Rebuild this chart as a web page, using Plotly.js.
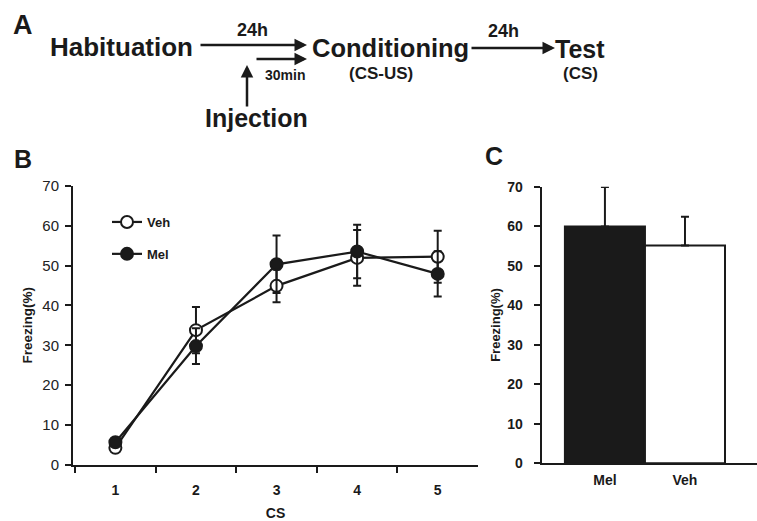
<!DOCTYPE html>
<html>
<head>
<meta charset="utf-8">
<script src="https://cdn.plot.ly/plotly-3.0.1.min.js"></script>
<style>html,body{margin:0;padding:0;background:#fff;}#chart{width:757px;height:521px;}</style>
</head>
<body>
<div id="chart"></div>
<script>
// ---- Data (panel B) ----
const csTrials = ['1', '2', '3', '4', '5'];
const vehFreezing = [4.3, 33.8, 44.9, 51.9, 52.2];
const vehSem = [0.8, 5.8, 4.1, 7.0, 6.5];
const melFreezing = [5.7, 29.8, 50.3, 53.5, 47.9];
const melSem = [0.6, 4.5, 7.2, 6.7, 5.7];
// ---- Data (panel C) ----
const groups = ['Mel', 'Veh'];
const testFreezing = [59.9, 55.1];
const testSem = [10.0, 7.3];
const yTicks = [0, 10, 20, 30, 40, 50, 60, 70];

const W = 757, H = 521;
const px = x => x / W;
const py = y => 1 - y / H;
const FONT = 'Liberation Sans, Arial, sans-serif';
const INK = '#1a1a1a';

const traces = [
  {
    x: csTrials, y: vehFreezing, name: 'Veh', type: 'scatter', mode: 'lines+markers',
    xaxis: 'x', yaxis: 'y', legendgroup: 'veh',
    line: {color: INK, width: 2.2},
    marker: {symbol: 'circle', size: 12, color: '#ffffff', line: {color: INK, width: 2}},
    error_y: {type: 'data', array: vehSem, visible: true, color: INK, thickness: 2, width: 4}
  },
  {
    x: csTrials, y: melFreezing, name: 'Mel', type: 'scatter', mode: 'lines+markers',
    xaxis: 'x', yaxis: 'y', legendgroup: 'mel',
    line: {color: INK, width: 2.2},
    marker: {symbol: 'circle', size: 12, color: INK, line: {color: INK, width: 2}},
    error_y: {type: 'data', array: melSem, visible: true, color: INK, thickness: 2, width: 4}
  },
  {
    x: groups, y: testFreezing, type: 'bar', xaxis: 'x2', yaxis: 'y2', showlegend: false,
    width: 1,
    marker: {color: [INK, '#ffffff'], line: {color: INK, width: 2}},
    error_y: {type: 'data', symmetric: false, array: testSem, arrayminus: [0, 0], visible: true,
              color: INK, thickness: 2, width: 4}
  }
];

function txt(t, x, y, size, extra) {
  return Object.assign({
    text: t, x: px(x), y: py(y), xref: 'paper', yref: 'paper', showarrow: false,
    xanchor: 'center', yanchor: 'middle',
    font: {family: FONT, size: size, color: INK, weight: 'bold'}
  }, extra || {});
}
function arrow(x0, y0, x1, y1) {
  return {
    text: '', x: px(x1), y: py(y1), xref: 'paper', yref: 'paper', showarrow: true,
    ax: x0 - x1, ay: y0 - y1, axref: 'pixel', ayref: 'pixel',
    arrowhead: 2, arrowsize: 1, arrowwidth: 2.5, arrowcolor: INK, standoff: 0, startstandoff: 0
  };
}

const annotations = [
  txt('A', 23, 25, 27),
  txt('Habituation', 121, 47, 26),
  txt('24h', 253, 30, 18),
  arrow(199, 45, 307, 45),
  arrow(255, 59, 307, 59),
  txt('30min', 285, 75, 14),
  arrow(247, 108, 247, 65),
  txt('Injection', 256, 118, 25),
  txt('Conditioning', 390, 48, 25.5),
  txt('(CS-US)', 381, 73, 17),
  txt('24h', 503, 31, 18),
  arrow(470, 48, 555, 48),
  txt('Test', 580, 49, 25),
  txt('(CS)', 580, 73, 17),
  txt('B', 23, 159, 25),
  txt('C', 494, 156, 25)
];

const layout = {
  width: W, height: H,
  margin: {l: 0, r: 0, t: 0, b: 0},
  paper_bgcolor: '#ffffff', plot_bgcolor: 'rgba(0,0,0,0)',
  font: {family: FONT, color: INK},
  showlegend: true,
  legend: {
    x: px(107), y: py(207), xanchor: 'left', yanchor: 'top',
    bgcolor: 'rgba(0,0,0,0)', borderwidth: 0,
    traceorder: 'grouped', tracegroupgap: 12,
    font: {family: FONT, size: 13, color: INK, weight: 'bold'}
  },
  xaxis: {
    domain: [px(73), px(478)], anchor: 'y', type: 'category',
    range: [-0.526, 4.5], tickson: 'boundaries',
    showline: true, linecolor: INK, linewidth: 2, showgrid: false, zeroline: false,
    ticks: 'outside', ticklen: 6, tickwidth: 2, tickcolor: INK, ticklabelstandoff: 11,
    tickfont: {family: FONT, size: 14, color: INK, weight: 'bold'},
    title: {text: 'CS', standoff: 12, font: {family: FONT, size: 14, color: INK, weight: 'bold'}}
  },
  yaxis: {
    domain: [py(465), py(185.7)], anchor: 'x', range: [0, 70],
    tickvals: yTicks,
    showline: true, linecolor: INK, linewidth: 2, showgrid: false, zeroline: false,
    ticks: 'outside', ticklen: 6, tickwidth: 2, tickcolor: INK, ticklabelstandoff: 3,
    tickfont: {family: FONT, size: 15, color: '#222'},
    title: {text: 'Freezing(%)', standoff: 7, font: {family: FONT, size: 13.5, color: INK, weight: 'bold'}}
  },
  xaxis2: {
    domain: [px(541.7), 1], anchor: 'y2', type: 'category',
    range: [-0.79, 1.9],
    showline: true, linecolor: INK, linewidth: 2, showgrid: false, zeroline: false,
    ticks: '', ticklabelstandoff: 3,
    tickfont: {family: FONT, size: 14, color: INK, weight: 'bold'}
  },
  yaxis2: {
    domain: [py(463.3), py(186.7)], anchor: 'x2', range: [0, 70],
    tickvals: yTicks,
    showline: true, linecolor: INK, linewidth: 2, showgrid: false, zeroline: false,
    ticks: 'outside', ticklen: 6, tickwidth: 2, tickcolor: INK, ticklabelstandoff: 8,
    tickfont: {family: FONT, size: 14, color: INK, weight: 'bold'},
    title: {text: 'Freezing(%)', standoff: 4, font: {family: FONT, size: 13, color: INK, weight: 'bold'}}
  },
  bargap: 0,
  annotations: annotations
};

Plotly.newPlot('chart', traces, layout, {displayModeBar: false, staticPlot: true});
</script>
</body>
</html>
